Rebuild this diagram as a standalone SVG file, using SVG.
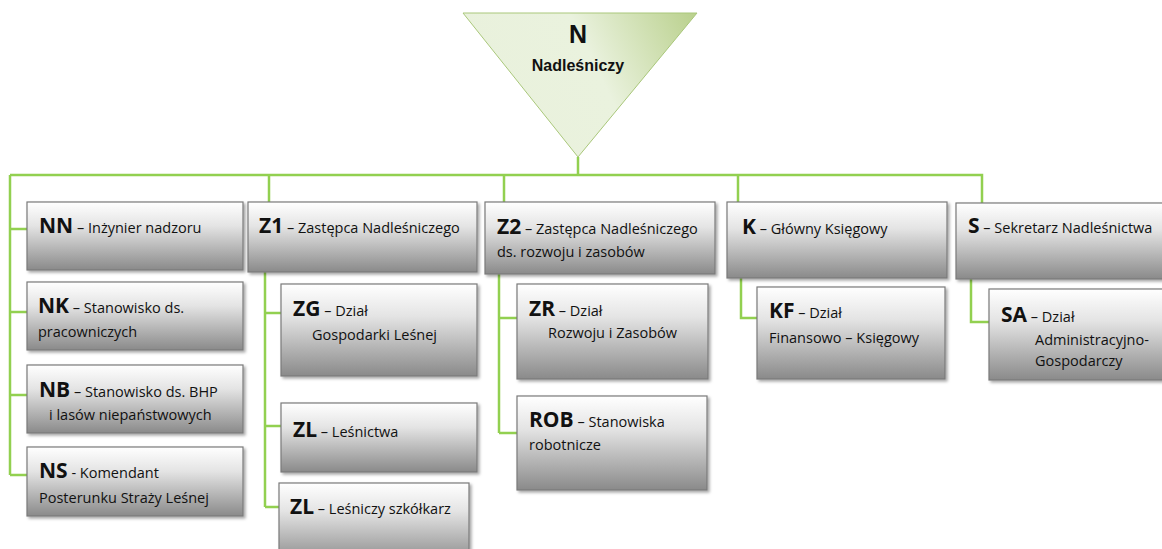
<svg xmlns="http://www.w3.org/2000/svg" width="1162" height="549" viewBox="0 0 1162 549">
<style>
.box{fill:url(#gBox);stroke:#7a7a7a;stroke-width:1.2;filter:url(#sh)}
.c{fill:none;stroke:#92d050;stroke-width:2.5}
text{font-family:"Open Sans","Noto Sans","Liberation Sans",sans-serif;fill:#111}
.t{font-size:14.5px}
.b{font-size:21px;font-weight:bold}
.n{font-family:"Liberation Sans",Arial,sans-serif;font-weight:bold}
</style>
<defs>
<linearGradient id="gBox" x1="0" y1="0" x2="0" y2="1">
<stop offset="0" stop-color="#ffffff"/>
<stop offset="0.35" stop-color="#e4e4e4"/>
<stop offset="1" stop-color="#8a8a8a"/>
</linearGradient>
<linearGradient id="gTri" x1="0" y1="0.3" x2="1" y2="0">
<stop offset="0" stop-color="#e9f1dc"/>
<stop offset="0.5" stop-color="#eaf2de"/>
<stop offset="1" stop-color="#b9d08c"/>
</linearGradient>
<filter id="sh" x="-10%" y="-10%" width="130%" height="140%">
<feDropShadow dx="2" dy="2" stdDeviation="1.5" flood-color="#000" flood-opacity="0.35"/>
</filter>
</defs>

<g id="connectors">
<path class="c" d="M578,157 V175 M10,175 H982 V203"/>
<path class="c" d="M10,175 V475 M10,229 H27 M10,312 H27 M10,395 H27 M10,475 H27"/>
<path class="c" d="M269,175 V202 M265,272 V507 M265,313 H281 M265,426 H281 M265,507 H279"/>
<path class="c" d="M504,175 V202 M499,274 V433 M499,318 H517 M499,433 H517"/>
<path class="c" d="M738,175 V202 M741,278 V318 H757"/>
<path class="c" d="M971,279 V322 H989"/>
</g>

<g id="N">
<polygon points="463,13 697,13 578,157" fill="url(#gTri)" stroke="#a9c77a" stroke-width="1"/>
<text class="n" x="578" y="43" font-size="25" text-anchor="middle">N</text>
<text class="n" x="578" y="71" font-size="16" text-anchor="middle">Nadleśniczy</text>
</g>

<g id="NN">
<rect class="box" x="27" y="202" width="216" height="68"/>
<text x="39" y="233"><tspan class="b">NN</tspan><tspan class="t"> – Inżynier nadzoru</tspan></text>
</g>
<g id="NK">
<rect class="box" x="27" y="282" width="216" height="68"/>
<text x="38" y="313"><tspan class="b">NK</tspan><tspan class="t"> – Stanowisko ds.</tspan></text>
<text class="t" x="38" y="337">pracowniczych</text>
</g>
<g id="NB">
<rect class="box" x="27" y="365" width="216" height="68"/>
<text x="39" y="397"><tspan class="b">NB</tspan><tspan class="t"> – Stanowisko ds. BHP</tspan></text>
<text class="t" x="49" y="420">i lasów niepaństwowych</text>
</g>
<g id="NS">
<rect class="box" x="27" y="447" width="216" height="69"/>
<text x="39" y="478"><tspan class="b">NS</tspan><tspan class="t"> - Komendant</tspan></text>
<text class="t" x="39" y="503">Posterunku Straży Leśnej</text>
</g>

<g id="Z1">
<rect class="box" x="248" y="202" width="229" height="70"/>
<text x="259" y="233"><tspan class="b">Z1</tspan><tspan class="t"> – Zastępca Nadleśniczego</tspan></text>
</g>
<g id="ZG">
<rect class="box" x="281" y="284" width="196" height="92"/>
<text x="293" y="316"><tspan class="b">ZG</tspan><tspan class="t"> – Dział</tspan></text>
<text class="t" x="312" y="340">Gospodarki Leśnej</text>
</g>
<g id="ZL">
<rect class="box" x="281" y="403" width="196" height="69"/>
<text x="293" y="437"><tspan class="b">ZL</tspan><tspan class="t"> – Leśnictwa</tspan></text>
</g>
<g id="ZL2">
<rect class="box" x="279" y="483" width="190" height="80"/>
<text x="290" y="514"><tspan class="b">ZL</tspan><tspan class="t"> – Leśniczy szkółkarz</tspan></text>
</g>

<g id="Z2">
<rect class="box" x="485" y="202" width="230" height="72"/>
<text x="497" y="234"><tspan class="b">Z2</tspan><tspan class="t"> – Zastępca Nadleśniczego</tspan></text>
<text class="t" x="497" y="257">ds. rozwoju i zasobów</text>
</g>
<g id="ZR">
<rect class="box" x="517" y="284" width="191" height="95"/>
<text x="529" y="316"><tspan class="b">ZR</tspan><tspan class="t"> – Dział</tspan></text>
<text class="t" x="548" y="338">Rozwoju i Zasobów</text>
</g>
<g id="ROB">
<rect class="box" x="517" y="396" width="190" height="94"/>
<text x="529" y="427"><tspan class="b">ROB</tspan><tspan class="t"> – Stanowiska</tspan></text>
<text class="t" x="529" y="450">robotnicze</text>
</g>

<g id="K">
<rect class="box" x="727" y="202" width="220" height="76"/>
<text x="742" y="234"><tspan class="b">K</tspan><tspan class="t"> – Główny Księgowy</tspan></text>
</g>
<g id="KF">
<rect class="box" x="757" y="287" width="188" height="92"/>
<text x="769" y="318"><tspan class="b">KF</tspan><tspan class="t"> – Dział</tspan></text>
<text class="t" x="769" y="343">Finansowo – Księgowy</text>
</g>

<g id="S">
<rect class="box" x="956" y="203" width="220" height="76"/>
<text x="968" y="233"><tspan class="b">S</tspan><tspan class="t"> – Sekretarz Nadleśnictwa</tspan></text>
</g>
<g id="SA">
<rect class="box" x="989" y="289" width="190" height="91"/>
<text x="1001" y="322"><tspan class="b">SA</tspan><tspan class="t"> – Dział</tspan></text>
<text class="t" x="1035" y="345">Administracyjno-</text>
<text class="t" x="1035" y="366">Gospodarczy</text>
</g>
</svg>
